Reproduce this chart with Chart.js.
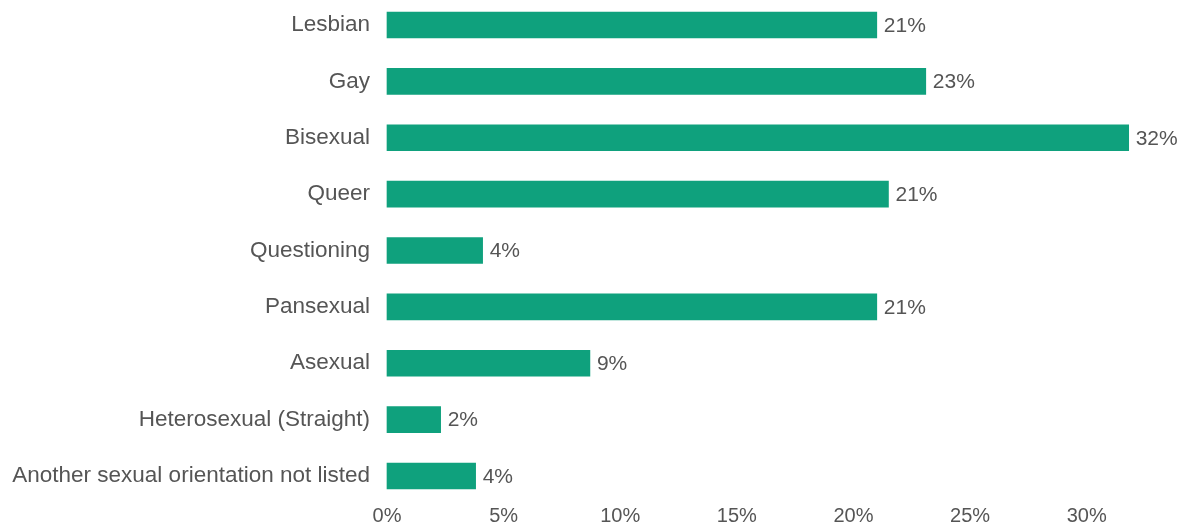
<!DOCTYPE html>
<html>
<head>
<meta charset="utf-8">
<script src="https://cdn.jsdelivr.net/npm/chart.js@4/dist/chart.umd.min.js"></script>
<style>
  html, body { margin: 0; padding: 0; background: #fff; }
  #wrap { width: 1186px; height: 529px; position: relative; }
</style>
</head>
<body>
<div id="wrap"><canvas id="orientationChart"></canvas></div>
<script>
const categories = ['Lesbian', 'Gay', 'Bisexual', 'Queer', 'Questioning', 'Pansexual', 'Asexual', 'Heterosexual (Straight)', 'Another sexual orientation not listed'];
const shares = [21.0, 23.1, 31.8, 21.5, 4.1, 21.0, 8.7, 2.3, 3.8];
const shareLabels = ['21%', '23%', '32%', '21%', '4%', '21%', '9%', '2%', '4%'];
const xTicks = [0, 5, 10, 15, 20, 25, 30];

const barColor = '#0fa17d';
const textColor = '#555555';
const fontFamily = '"Liberation Sans", Arial, sans-serif';

const valueLabels = {
    id: 'valueLabels',
    afterDatasetsDraw(chart) {
        const ctx = chart.ctx;
        const meta = chart.getDatasetMeta(0);
        ctx.save();
        ctx.font = '21px ' + fontFamily;
        ctx.fillStyle = textColor;
        ctx.textAlign = 'left';
        ctx.textBaseline = 'middle';
        meta.data.forEach((bar, i) => {
            ctx.fillText(shareLabels[i], bar.x + 7, bar.y + 1);
        });
        ctx.restore();
    }
};

document.addEventListener('DOMContentLoaded', function() {
    const ctx = document.getElementById('orientationChart').getContext('2d');
    new Chart(ctx, {
        type: 'bar',
        data: {
            labels: categories,
            datasets: [{
                data: shares,
                backgroundColor: barColor,
                barThickness: 26,
                clip: false
            }]
        },
        options: {
            indexAxis: 'y',
            responsive: true,
            maintainAspectRatio: false,
            animation: false,
            layout: { padding: { top: 25, bottom: 0, left: 0, right: 6 } },
            plugins: {
                legend: { display: false },
                tooltip: { enabled: false }
            },
            scales: {
                x: {
                    min: 0,
                    max: 34,
                    grid: { display: false, drawTicks: false },
                    border: { display: false },
                    afterBuildTicks: s => { s.ticks = xTicks.map(v => ({ value: v })); },
                    afterFit: s => { s.height = 53; s.paddingLeft = 0; s.paddingRight = 0; },
                    ticks: {
                        padding: 28,
                        color: textColor,
                        font: { size: 20, family: fontFamily },
                        maxRotation: 0,
                        callback: v => v + '%'
                    }
                },
                y: {
                    offset: false,
                    grid: { display: false, drawTicks: false },
                    border: { display: false },
                    afterFit: s => { s.width = 387; s.paddingTop = 0; s.paddingBottom = 0; },
                    ticks: {
                        padding: 17,
                        color: textColor,
                        font: { size: 22.5, family: fontFamily }
                    }
                }
            }
        },
        plugins: [valueLabels]
    });
});
</script>
</body>
</html>
